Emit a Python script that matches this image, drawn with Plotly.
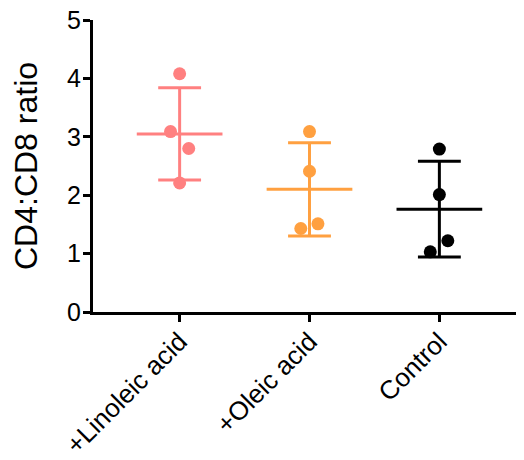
import plotly.graph_objects as go

categories = ["+Linoleic acid", "+Oleic acid", "Control"]
linoleic = [4.08, 3.09, 2.80, 2.21]
oleic = [3.09, 2.41, 1.51, 1.43]
control = [2.79, 2.01, 1.22, 1.03]
means = [3.05, 2.10, 1.76]
sds = [0.79, 0.80, 0.82]
y_ticks = [0, 1, 2, 3, 4, 5]

series = [linoleic, oleic, control]
colors = ["#FF8080", "#FFA040", "#000000"]
jitter = [[0, -0.07, 0.07, 0], [0, 0, 0.065, -0.067], [0, 0, 0.065, -0.07]]
mean_half = 0.33
cap_half = 0.165

fig = go.Figure()
for i, (vals, col) in enumerate(zip(series, colors)):
    m, s = means[i], sds[i]
    fig.add_trace(go.Scatter(x=[i - mean_half, i + mean_half], y=[m, m], mode="lines",
                             line=dict(color=col, width=3), hoverinfo="skip", showlegend=False))
    fig.add_trace(go.Scatter(x=[i, i], y=[m - s, m + s], mode="lines",
                             line=dict(color=col, width=3), hoverinfo="skip", showlegend=False))
    for yy in (m - s, m + s):
        fig.add_trace(go.Scatter(x=[i - cap_half, i + cap_half], y=[yy, yy], mode="lines",
                                 line=dict(color=col, width=3), hoverinfo="skip", showlegend=False))
for i, (vals, col) in enumerate(zip(series, colors)):
    fig.add_trace(go.Scatter(x=[i + j for j in jitter[i]], y=vals, mode="markers",
                             marker=dict(color=col, size=13, line=dict(width=0)),
                             showlegend=False, name=categories[i]))

fig.update_layout(
    width=524, height=460,
    margin=dict(l=85, r=6, t=12, b=156, autoexpand=False),
    plot_bgcolor="white", paper_bgcolor="white",
    font=dict(family="Liberation Sans, Arial, sans-serif", color="black"),
    showlegend=False,
)
fig.update_xaxes(
    range=[-0.667, 2.667], tickvals=[0, 1, 2], ticktext=categories,
    tickangle=-45, tickfont=dict(size=26), showgrid=False, zeroline=False,
    showline=True, linecolor="black", linewidth=3, automargin=False,
    ticks="outside", ticklen=7, tickwidth=3, tickcolor="black",
    ticklabeloverflow="allow", ticklabelstandoff=-6,
)
fig.update_yaxes(
    range=[0, 5], tickvals=y_ticks, tickfont=dict(size=25), showgrid=False, zeroline=False,
    showline=True, linecolor="black", linewidth=3, automargin=False,
    ticks="outside", ticklen=7, tickwidth=3, tickcolor="black",
    ticklabeloverflow="allow", ticklabelstandoff=-3,
    title=dict(text="CD4:CD8 ratio", font=dict(size=32), standoff=20),
)
fig.write_html("out.html")
